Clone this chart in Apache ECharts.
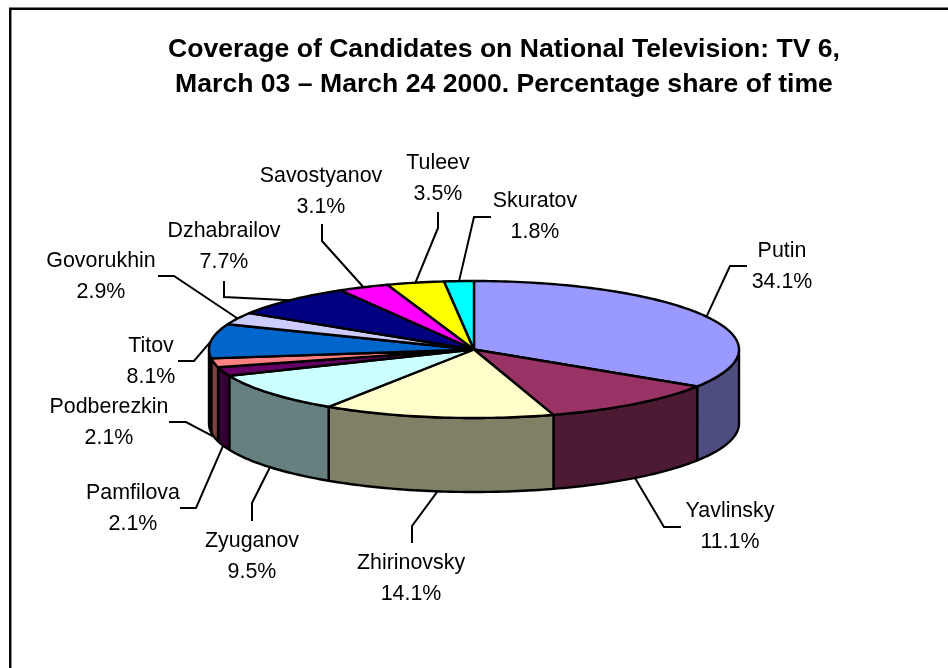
<!DOCTYPE html>
<html>
<head>
<meta charset="utf-8">
<style>html,body{margin:0;padding:0;background:#fff}#chart{width:948px;height:668px}</style>
<script src="https://cdn.jsdelivr.net/npm/echarts@6/dist/echarts.min.js"></script>
</head>
<body>
<div id="chart"></div>
<script>
// Share of airtime per candidate, clockwise from twelve o'clock
const candidates = ['Putin','Yavlinsky','Zhirinovsky','Zyuganov','Pamfilova','Podberezkin','Titov','Govorukhin','Dzhabrailov','Savostyanov','Tuleev','Skuratov'];
const shares = [34.1,11.1,14.1,9.5,2.1,2.1,8.1,2.9,7.7,3.1,3.5,1.8];
const topColors = ['#9999FF','#993366','#FFFFCC','#CCFFFF','#660066','#FF8080','#0066CC','#CCCCFF','#000080','#FF00FF','#FFFF00','#00FFFF'];
const wallColors = ['#4D4D80','#4D1A33','#808066','#668080','#330033','#804040','#003366','#666680','#000040','#800080','#808000','#008080'];

const titleLines = ['Coverage of Candidates on National Television: TV 6,','March 03 \u2013 March 24 2000. Percentage share of time'];

// Label centres and the two outer points of every leader line
const labelCentres = [[782,267],[730,527],[411,578.5],[252,557],[133,508.5],[109,422.5],[151,361.5],[101,277],[224,247],[321,191.5],[438,178.5],[535,217]];
const leaderElbows = [[730,266],[664,527],[412,526],[252,503],[196,508],[186,422],[194,361],[174,276],[224,297],[322,241],[438,228],[474,217]];
const leaderEnds = [[747,266],[681,527],[412,543],[252,521],[180,508],[169,422],[178,361],[158,276],[224,281],[322,224],[438,212],[491,217]];

// Tilted-disc projection of the pie
const disc = {cx: 474, cy: 349.5, rx: 265, ry: 68.5, depth: 74};
const FRONT_START = Math.PI / 2, FRONT_END = Math.PI * 1.5;
const total = shares.reduce((a, b) => a + b, 0);
const toAngle = v => echarts.number.linearMap(v, [0, total], [0, Math.PI * 2]);

let running = 0;
const sliceRows = shares.map((v, i) => {
  const row = [i, v, running, running + v];
  running += v;
  return row;
});

function rimPoint(angle, drop) {
  return [disc.cx + disc.rx * Math.sin(angle), disc.cy - disc.ry * Math.cos(angle) + drop];
}
function arcPoints(a0, a1, drop) {
  const steps = Math.max(2, Math.ceil((a1 - a0) / 0.02));
  const pts = [];
  for (let k = 0; k <= steps; k++) pts.push(rimPoint(a0 + (a1 - a0) * k / steps, drop));
  return pts;
}

const outline = {stroke: '#000', lineWidth: 2.4, lineJoin: 'round'};

function renderWall(params, api) {
  const a0 = Math.max(toAngle(api.value(2)), FRONT_START);
  const a1 = Math.min(toAngle(api.value(3)), FRONT_END);
  if (a1 <= a0) return {type: 'group', children: []};
  const upper = arcPoints(a0, a1, 0);
  const lower = arcPoints(a0, a1, disc.depth).reverse();
  return {
    type: 'polygon',
    shape: {points: upper.concat(lower)},
    style: Object.assign({fill: wallColors[api.value(0)]}, outline)
  };
}

function renderTop(params, api) {
  const pts = arcPoints(toAngle(api.value(2)), toAngle(api.value(3)), 0);
  pts.unshift([disc.cx, disc.cy]);
  return {
    type: 'polygon',
    shape: {points: pts},
    style: Object.assign({fill: topColors[api.value(0)]}, outline)
  };
}

function renderLabel(params, api) {
  const i = api.value(0);
  const mid = toAngle((api.value(2) + api.value(3)) / 2);
  const onFront = mid > FRONT_START && mid < FRONT_END;
  const anchor = rimPoint(mid, onFront ? disc.depth : 0);
  return {
    type: 'group',
    children: [
      {
        type: 'polyline',
        shape: {points: [anchor, leaderElbows[i], leaderEnds[i]]},
        style: {stroke: '#000', lineWidth: 2, fill: null}
      },
      {
        type: 'text',
        style: {
          x: labelCentres[i][0],
          y: labelCentres[i][1],
          text: candidates[i] + '\n' + api.value(1).toFixed(1) + '%',
          font: '21.4px "Liberation Sans", Arial, sans-serif',
          lineHeight: 31,
          fill: '#000',
          align: 'center',
          verticalAlign: 'middle'
        }
      }
    ]
  };
}

const layer = (name, renderItem, z) => ({
  type: 'custom', name, coordinateSystem: 'none', renderItem, data: sliceRows,
  silent: true, animation: false, z, clip: false
});

const chart = echarts.init(document.getElementById('chart'), null, {renderer: 'canvas', width: 948, height: 668});
chart.setOption({
  animation: false,
  backgroundColor: '#fff',
  title: {
    text: titleLines.join('\n'),
    left: 499,
    top: 27,
    textAlign: 'center',
    textStyle: {fontFamily: '"Liberation Sans", Arial, sans-serif', fontWeight: 'bold', fontSize: 26.6, lineHeight: 35, color: '#000'}
  },
  graphic: [{
    type: 'rect',
    silent: true,
    shape: {x: 10.25, y: 8.75, width: 1200, height: 1200},
    style: {fill: null, stroke: '#000', lineWidth: 2.4}
  }],
  series: [
    layer('Walls', renderWall, 2),
    layer('Tops', renderTop, 3),
    layer('Labels', renderLabel, 4)
  ]
});
</script>
</body>
</html>
